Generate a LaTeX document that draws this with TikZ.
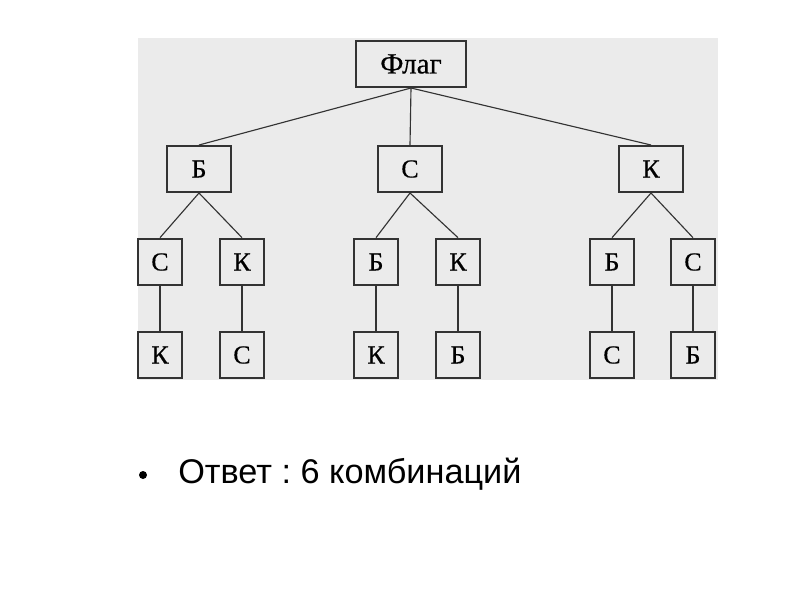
\documentclass[tikz,border=0pt]{standalone}
\usepackage{fontspec}
\setmainfont{Liberation Serif}
\newfontfamily\boxfont{Liberation Serif}[FakeBold=0.4]
\newfontfamily\arialfont{Liberation Sans}
\frenchspacing
\begin{document}
\begin{tikzpicture}[x=0.75pt,y=-0.75pt,
  box/.style={draw=black!80,line width=1.5pt,fill=white!92!black,minimum width=#1,inner sep=0pt,font=\boxfont\fontsize{19.5}{19.5}\selectfont},
  box/.default=44pt,
  edge/.style={draw=black!80,line width=0.85pt}]
\useasboundingbox (0,0) rectangle (800,600);
\fill[white] (0,0) rectangle (800,600);
\fill[black!8] (138,38) rectangle (718,380);
% root
\node[box=82pt,minimum height=34.5pt,font=\boxfont\fontsize{22}{22}\selectfont] (r) at (411,64) {Флаг};
% level 2
\node[box=48pt,minimum height=34.5pt] (b) at (199,169) {Б};
\node[box=48pt,minimum height=34.5pt] (s) at (410,169) {С};
\node[box=48pt,minimum height=34.5pt] (k) at (651,169) {К};
% level 3
\begin{scope}[every node/.append style={font=\boxfont\fontsize{20.5}{20.5}\selectfont}]
\node[box=33pt,minimum height=35pt] (bs) at (160,262) {С};
\node[box=33pt,minimum height=35pt] (bk) at (242,262) {К};
\node[box=33pt,minimum height=35pt] (sb) at (376,262) {Б};
\node[box=33pt,minimum height=35pt] (sk) at (458,262) {К};
\node[box=33pt,minimum height=35pt] (kb) at (612,262) {Б};
\node[box=33pt,minimum height=35pt] (ks) at (693,262) {С};
% level 4
\node[box=33pt,minimum height=34.5pt] (bsk) at (160,355) {К};
\node[box=33pt,minimum height=34.5pt] (bks) at (242,355) {С};
\node[box=33pt,minimum height=34.5pt] (sbk) at (376,355) {К};
\node[box=33pt,minimum height=34.5pt] (skb) at (458,355) {Б};
\node[box=33pt,minimum height=34.5pt] (kbs) at (612,355) {С};
\node[box=33pt,minimum height=34.5pt] (ksb) at (693,355) {Б};
\end{scope}
% edges
\foreach \c in {b,s,k} \draw[edge] (r.south) -- (\c.north);
\draw[edge] (b.south) -- (bs.north);
\draw[edge] (b.south) -- (bk.north);
\draw[edge] (s.south) -- (sb.north);
\draw[edge] (s.south) -- (sk.north);
\draw[edge] (k.south) -- (kb.north);
\draw[edge] (k.south) -- (ks.north);
\foreach \a/\z in {bs/bsk,bk/bks,sb/sbk,sk/skb,kb/kbs,ks/ksb} \draw[edge] (\a.south) -- (\z.north);
% answer
\node[circle,fill=black,inner sep=0pt,minimum size=6pt] (bul) at (143,475) {};
\node[anchor=base west,inner sep=0pt,font=\arialfont\fontsize{25.7}{25.7}\selectfont] (ans) at (178,483) {Ответ : 6 комбинаций};
\end{tikzpicture}
\end{document}
